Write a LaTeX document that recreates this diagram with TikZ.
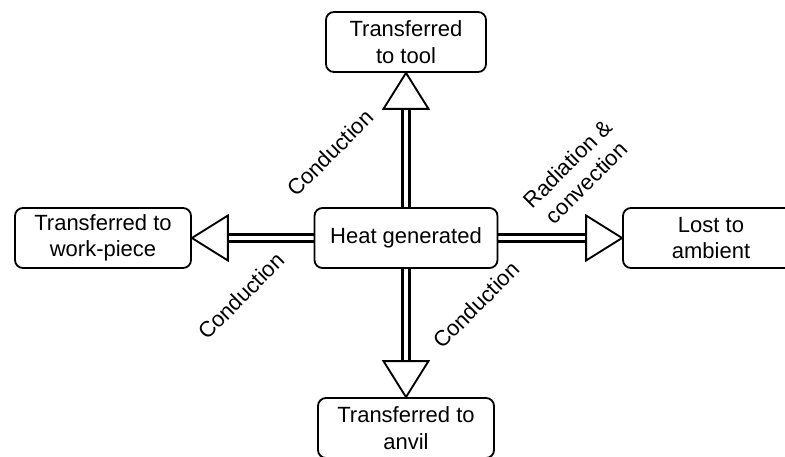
\documentclass[tikz,border=0pt]{standalone}
\usepackage{fontspec}
\setmainfont{Liberation Sans}
\usetikzlibrary{calc,backgrounds}
\tikzset{
  box/.style={draw,line width=1.8pt,rounded corners=8pt,fill=white,align=center,
    minimum height=60pt,inner sep=2pt,font=\fontsize{22}{26.5}\selectfont},
  shaft/.style={line width=2.4pt,double=white,double distance=4.4pt},
  head/.style={draw,line width=1.9pt,fill=white,line join=miter},
  flowlabel/.style={rotate=45,align=center,font=\fontsize{22}{26.5}\selectfont}
}

\begin{document}
\begin{tikzpicture}[x=1pt,y=-1pt]
\useasboundingbox (0,0) rectangle (785,457);
% boxes
\node[box,minimum width=183pt] (heat) at (406,238) {Heat generated};
\node[box,minimum width=160pt] (tool) at (406,42) {Transferred\\to tool};
\node[box,minimum width=176pt] (work) at (103,238) {Transferred to\\work-piece};
\node[box,minimum width=176pt] (amb) at (711,238) {Lost to\\ambient};
\node[box,minimum width=176pt] (anvil) at (406,428) {Transferred to\\anvil};
% labels
\node[flowlabel] (lbtool) at (330,153) {Conduction};
\node[flowlabel] (lbwork) at (241,296) {Conduction};
\node[flowlabel] (lbanvil) at (476,305) {Conduction};
\node[flowlabel] (lbamb) at (577,173) {Radiation \&\\convection};
% arrows
\begin{scope}[on background layer]
\foreach \src/\dst in {heat.north/tool.south,heat.west/work.east,heat.east/amb.west,heat.south/anvil.north}{
  \coordinate (hb) at ($(\dst)!36pt!(\src)$);
  \draw[shaft] (\src) -- (hb);
  \draw[head] (\dst) -- ($(hb)!22.5pt!90:(\dst)$) -- ($(hb)!22.5pt!-90:(\dst)$) -- cycle;
}
\end{scope}
\end{tikzpicture}
\end{document}
